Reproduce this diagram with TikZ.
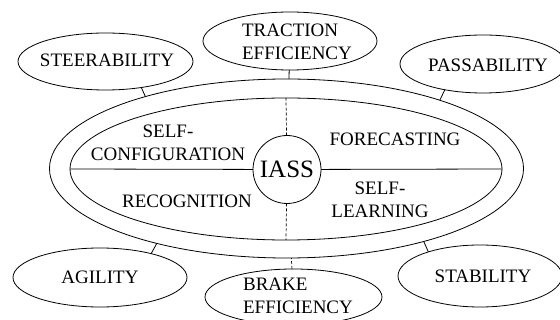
\documentclass[tikz,border=0pt]{standalone}
\usepackage{fontspec}
\setmainfont{Liberation Serif}
\usetikzlibrary{shapes.geometric}
\begin{document}
\begin{tikzpicture}[x=1pt,y=-1pt,
  line width=0.8pt,
  oval/.style={draw, ellipse, inner sep=0pt, outer sep=0pt},
  word/.style={inner sep=0pt, font=\fontsize{19}{23}\selectfont},
  hub/.style={draw, circle, inner sep=0pt, outer sep=0pt, minimum size=68pt,
              font=\fontsize{25}{28}\selectfont},
  axis/.style={line width=0.7pt, dash pattern=on 3pt off 2pt}]
\fill[white] (0,0) rectangle (560,320);
\useasboundingbox (0,0) rectangle (560,320);

% two concentric rings around the core
\node[oval, minimum width=474pt, minimum height=179pt] (outer) at (286.5,168.5) {};
\node[oval, minimum width=432pt, minimum height=142pt] (inner) at (286,169) {};
\node[hub, fill=white] (iass) at (287,169.5) {IASS};

% quadrant dividers
\draw (iass) -- (inner.west);
\draw (iass) -- (inner.east);
\draw[axis] (iass) -- (inner.north);
\draw[axis] (iass) -- (inner.south);

% quadrant labels
\node[word, align=center] (selfconf) at (168,143) {SELF-\\CONFIGURATION};
\node[word] (recog) at (187,201.5) {RECOGNITION};
\node[word] (forec) at (395,139) {FORECASTING};
\node[word, align=center] (selflearn) at (380,199.5) {SELF-\\LEARNING};

% surrounding properties
\node[oval, minimum width=175pt, minimum height=57pt] (steer) at (105.5,61.5) {};
\node[oval, minimum width=174pt, minimum height=58pt] (trac) at (290,41) {};
\node[oval, minimum width=166pt, minimum height=58pt] (pass) at (483,64) {};
\node[oval, minimum width=174pt, minimum height=59pt] (agil) at (100,277.5) {};
\node[oval, minimum width=177pt, minimum height=56pt] (brake) at (293.5,297) {};
\node[oval, minimum width=164pt, minimum height=62pt] (stab) at (480,276) {};

\node[word] (steertxt) at (107,60) {STEERABILITY};
\node[word, align=left] (tractxt) at (297,41.5) {TRACTION\\EFFICIENCY};
\node[word] (passtxt) at (488,65) {PASSABILITY};
\node[word] (agiltxt) at (100,277.5) {AGILITY};
\node[word, align=left] (braketxt) at (298,295.5) {BRAKE\\EFFICIENCY};
\node[word] (stabtxt) at (483,276) {STABILITY};

% links from the outer ring to each property
\draw (steer.-36) -- (outer.153);
\draw (trac) -- (outer);
\draw (pass.-146) -- (outer.24);
\draw (agil.25) -- (outer.210.6);
\draw[axis] (brake) -- (outer);
\draw (stab.155) -- (outer.-28.3);
\end{tikzpicture}
\end{document}
